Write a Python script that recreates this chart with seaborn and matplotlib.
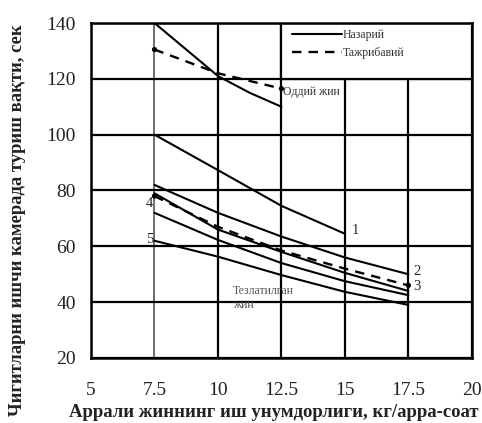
import numpy as np
import pandas as pd
import matplotlib
matplotlib.use("Agg")
import matplotlib.pyplot as plt
from matplotlib.lines import Line2D
from matplotlib.patches import Rectangle
import seaborn as sns

# ---- data ----
x_odd = [7.5, 8.75, 10, 11.25, 12.5]
y_odd_theory = [140, 130.5, 121, 115, 110]
x_odd_exp = [7.5, 10, 12.5]
y_odd_exp = [130.5, 122, 116.5]

x1 = [7.5, 10, 12.5, 15]
y1 = [100, 87.3, 74.5, 64.5]

x_fast = [7.5, 10, 12.5, 15, 17.5]
y2 = [82, 72, 63.5, 56, 50]
y3_exp = [78, 67, 58.5, 52, 46]
y3 = [79, 66, 58, 50.5, 44]
y4 = [72, 62.3, 54, 47.5, 42.5]
y5 = [62, 56.3, 49.7, 43.7, 39]

x_ticks = [5, 7.5, 10, 12.5, 15, 17.5, 20]
x_tick_labels = ["5", "7.5", "10", "12.5", "15", "17.5", "20"]
y_ticks = [20, 40, 60, 80, 100, 120, 140]

curve_labels = ["1", "2", "3", "4", "5"]
legend_labels = ["Назарий", "Тажрибавий"]
xlabel = "Аррали жиннинг иш унумдорлиги, кг/арра-соат"
ylabel = "Чигитларни ишчи камерада туриш вақти, сек"
note_simple = "Оддий жин"
note_fast = "Тезлатилган\nжин"

sns.set_theme(style="white")
plt.rcParams["font.family"] = ["Liberation Serif", "DejaVu Serif"]

fig = plt.figure(figsize=(4.82, 4.23), dpi=100)
ax = fig.add_axes([0.1888, 0.1537, 0.7902, 0.7919])

solid_kw = dict(color="black", linewidth=1.5, ax=ax, legend=False)
dash_kw = dict(color="black", linewidth=1.7, ax=ax, legend=False)

sns.lineplot(x=x_odd, y=y_odd_theory, **solid_kw)
sns.lineplot(x=x1, y=y1, **solid_kw)
sns.lineplot(x=x_fast, y=y2, **solid_kw)
sns.lineplot(x=x_fast, y=y3, **solid_kw)
sns.lineplot(x=x_fast, y=y4, **solid_kw)
sns.lineplot(x=x_fast, y=y5, **solid_kw)

for xs, ys in [(x_odd_exp, y_odd_exp), (x_fast, y3_exp)]:
    l = sns.lineplot(x=xs, y=ys, **dash_kw).lines[-1]
    l.set_dashes([4, 3])
    sns.scatterplot(x=[xs[0], xs[-1]], y=[ys[0], ys[-1]], color="black", s=14,
                    ax=ax, legend=False, edgecolor="none", zorder=4)

ax.set_xlim(5, 20)
ax.set_ylim(20, 140)
ax.set_xticks(x_ticks)
ax.set_xticklabels(x_tick_labels)
ax.set_yticks(y_ticks)
ax.grid(True, color="black", linewidth=1.6)
ax.set_axisbelow(True)
for tick_val, gl in zip(x_ticks, ax.get_xgridlines()):
    if tick_val == 7.5:
        gl.set_color("#555555")
        gl.set_linewidth(1.2)
for s in ax.spines.values():
    s.set_color("black")
    s.set_linewidth(1.8)
ax.tick_params(axis="both", labelsize=14, colors="#222222", length=3,
               width=1, direction="out")
ax.tick_params(axis="y", pad=8)
ax.tick_params(axis="x", pad=14)

ax.set_xlabel(xlabel, fontsize=13.5, fontweight="bold", color="#222222")
ax.set_ylabel(ylabel, fontsize=13.4, fontweight="bold", color="#222222")
ax.xaxis.set_label_coords(0.479, -0.138)
ax.yaxis.set_label_coords(-0.17, 0.41)

# curve numbers
ax.text(15.25, 65.5, curve_labels[0], fontsize=10.5, va="center", ha="left")
ax.text(17.7, 51, curve_labels[1], fontsize=10.5, va="center", ha="left")
ax.text(17.7, 45.5, curve_labels[2], fontsize=10.5, va="center", ha="left")
ax.text(7.45, 75.5, curve_labels[3], fontsize=10.5, va="center", ha="right")
ax.text(7.45, 62.5, curve_labels[4], fontsize=10.5, va="center", ha="right")
ax.text(12.55, 115.3, note_simple, fontsize=8.5, va="center", ha="left", color="#333333")
ax.text(10.6, 41.5, note_fast, fontsize=8.5, va="center", ha="left", color="#555555",
        linespacing=1.3)

# legend box (white panel framed by grid lines in the top-right cell block)
ax.add_patch(Rectangle((0.5, 1 - 1/6), 0.5, 1/6, transform=ax.transAxes,
                       facecolor="white", edgecolor="black", linewidth=1.6,
                       zorder=0.6))
handles = [Line2D([], [], color="black", linewidth=1.5),
           Line2D([], [], color="black", linewidth=1.7, dashes=[4, 3])]
leg = ax.legend(handles, legend_labels, loc="upper left",
                bbox_to_anchor=(0.513, 1.0),
                fontsize=8.5, handlelength=4.2, handletextpad=0.1,
                frameon=False, borderpad=0.5, labelspacing=0.5,
                borderaxespad=0)
for t in leg.get_texts():
    t.set_color("#333333")

fig.savefig("out.png", dpi=100)
